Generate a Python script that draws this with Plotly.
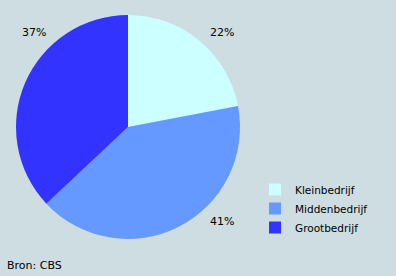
import math
import plotly.graph_objects as go

categories = ["Kleinbedrijf", "Middenbedrijf", "Grootbedrijf"]
values = [22, 41, 37]
colors = ["#ccffff", "#6699ff", "#3333ff"]
bg = "#cddde2"

W, H = 396, 276
cx, cy, r = 128, 127, 112
fig = go.Figure(go.Pie(
    labels=categories, values=values, sort=False, direction="clockwise", rotation=0,
    marker=dict(colors=colors, line=dict(width=0)),
    textinfo="none",
    domain=dict(x=[(cx - r) / W, (cx + r) / W], y=[1 - (cy + r) / H, 1 - (cy - r) / H]),
    hoverinfo="label+percent",
))

# percentage labels placed on the diagonal of the quadrant holding each slice's middle
annotations = []
total = sum(values)
cum = 0
R = 133
for v in values:
    mid = (cum + v / 2) / total * 360
    cum += v
    ang = math.radians(math.floor(mid / 90) * 90 + 45)
    x = cx + R * math.sin(ang)
    y = cy - R * math.cos(ang)
    annotations.append(dict(text=f"{v}%", x=x / W, y=1 - y / H, xref="paper", yref="paper",
                            xanchor="center", yanchor="middle", showarrow=False,
                            font=dict(size=11, color="black")))
annotations.append(dict(text="Bron: CBS", x=5 / W, y=1 - 265 / H, xref="paper", yref="paper",
                        xanchor="left", yanchor="middle", showarrow=False,
                        font=dict(size=11, color="black")))

fig.update_layout(
    width=W, height=H, margin=dict(l=0, r=0, t=0, b=0),
    paper_bgcolor=bg, plot_bgcolor=bg,
    font=dict(family="DejaVu Sans", size=11, color="black"),
    legend=dict(x=255 / W, y=1 - 175 / H, xanchor="left", yanchor="top",
                bgcolor="rgba(0,0,0,0)", font=dict(size=10.5), tracegroupgap=0,
                itemwidth=30),
    annotations=annotations,
)
fig.write_html("out.html")
